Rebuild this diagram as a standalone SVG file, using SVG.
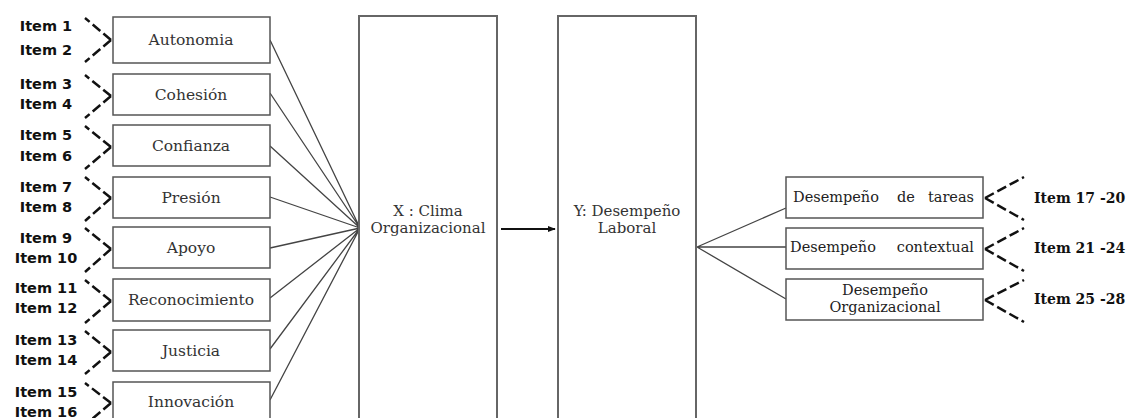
<svg xmlns="http://www.w3.org/2000/svg" width="1133" height="418" viewBox="0 0 1133 418">
<defs>
<style>
.box{fill:#fff;stroke:#555;stroke-width:1.5}
.big{fill:#fff;stroke:#666;stroke-width:2}
.lbl{font-family:"DejaVu Serif",serif;font-size:15.5px;fill:#333;text-anchor:middle}
.cl{font-family:"DejaVu Serif",serif;font-size:15px;fill:#333;text-anchor:middle}
.rl{font-family:"DejaVu Serif",serif;font-size:14.5px;fill:#222}
.item{font-family:"DejaVu Sans",sans-serif;font-weight:bold;font-size:14.5px;fill:#111;text-anchor:middle}
.ritem{font-family:"DejaVu Serif",serif;font-weight:bold;font-size:14px;fill:#111}
.dash{fill:none;stroke:#111;stroke-width:2.5;stroke-dasharray:10 4}
.ln{fill:none;stroke:#444;stroke-width:1.3}
</style>
<marker id="ah" viewBox="0 0 10 10" refX="9" refY="5" markerWidth="8" markerHeight="8" orient="auto" markerUnits="userSpaceOnUse">
<path d="M0,1 L10,5 L0,9 z" fill="#111"/>
</marker>
</defs>
<rect width="1133" height="418" fill="#fff"/>

<g id="connectors">
<path class="ln" d="M270,40 L360,228 M270,93 L360,228 M270,146 L360,228 M270,197 L360,228 M270,248 L360,228 M270,298 L360,228 M270,349 L360,228 M270,400 L360,228"/>
<path class="ln" d="M697,247 L786,208 M697,247 L786,247 M697,247 L786,299"/>
<line x1="501" y1="229" x2="555" y2="229" stroke="#111" stroke-width="2" marker-end="url(#ah)"/>
<path class="dash" d="M111,40 L85,18 M111,40 L85,62"/>
<path class="dash" d="M111,96 L85,75 M111,96 L85,118"/>
<path class="dash" d="M111,147 L85,126 M111,147 L85,169"/>
<path class="dash" d="M111,198 L85,177 M111,198 L85,221"/>
<path class="dash" d="M111,249 L85,228 M111,249 L85,272"/>
<path class="dash" d="M111,301 L85,280 M111,301 L85,323"/>
<path class="dash" d="M111,352 L85,331 M111,352 L85,374"/>
<path class="dash" d="M111,403 L85,383 M111,403 L85,425"/>
<path class="dash" d="M985,198 L1024,177 M985,198 L1024,220"/>
<path class="dash" d="M985,249 L1024,228 M985,249 L1024,271"/>
<path class="dash" d="M985,300 L1024,280 M985,300 L1024,322"/>
</g>

<g id="items-left">
<text class="item" x="46" y="31">Item 1</text>
<text class="item" x="46" y="55">Item 2</text>
<text class="item" x="46" y="89">Item 3</text>
<text class="item" x="46" y="109">Item 4</text>
<text class="item" x="46" y="140">Item 5</text>
<text class="item" x="46" y="161">Item 6</text>
<text class="item" x="46" y="192">Item 7</text>
<text class="item" x="46" y="212">Item 8</text>
<text class="item" x="46" y="243">Item 9</text>
<text class="item" x="46" y="263">Item 10</text>
<text class="item" x="46" y="293">Item 11</text>
<text class="item" x="46" y="313">Item 12</text>
<text class="item" x="46" y="345">Item 13</text>
<text class="item" x="46" y="365">Item 14</text>
<text class="item" x="46" y="397">Item 15</text>
<text class="item" x="46" y="417">Item 16</text>
</g>

<g id="autonomia"><rect class="box" x="113" y="17" width="157" height="46"/><text class="lbl" x="191" y="45">Autonomia</text></g>
<g id="cohesion"><rect class="box" x="113" y="74" width="157" height="41"/><text class="lbl" x="191" y="100">Cohesión</text></g>
<g id="confianza"><rect class="box" x="113" y="125" width="157" height="41"/><text class="lbl" x="191" y="151">Confianza</text></g>
<g id="presion"><rect class="box" x="113" y="177" width="157" height="41"/><text class="lbl" x="191" y="203">Presión</text></g>
<g id="apoyo"><rect class="box" x="113" y="227" width="157" height="41"/><text class="lbl" x="191" y="253">Apoyo</text></g>
<g id="reconocimiento"><rect class="box" x="113" y="279" width="157" height="42"/><text class="lbl" x="191" y="305">Reconocimiento</text></g>
<g id="justicia"><rect class="box" x="113" y="330" width="157" height="41"/><text class="lbl" x="191" y="356">Justicia</text></g>
<g id="innovacion"><rect class="box" x="113" y="382" width="157" height="50"/><text class="lbl" x="191" y="407">Innovación</text></g>

<g id="x-clima"><rect class="big" x="359" y="16" width="138" height="420"/><text class="cl" x="428" y="216">X : Clima</text><text class="cl" x="428" y="233">Organizacional</text></g>
<g id="y-desempeno"><rect class="big" x="558" y="16" width="138" height="420"/><text class="cl" x="627" y="216">Y: Desempeño</text><text class="cl" x="627" y="233">Laboral</text></g>

<g id="tareas"><rect class="box" x="786" y="177" width="197" height="41"/><text class="rl" y="202"><tspan x="793">Desempeño</tspan><tspan x="897">de</tspan><tspan x="974" text-anchor="end">tareas</tspan></text></g>
<g id="contextual"><rect class="box" x="786" y="228" width="197" height="41"/><text class="rl" y="252"><tspan x="790">Desempeño</tspan><tspan x="974" text-anchor="end">contextual</tspan></text></g>
<g id="organizacional"><rect class="box" x="786" y="279" width="197" height="41"/><text class="rl" x="885" y="295" text-anchor="middle">Desempeño</text><text class="rl" x="885" y="312" text-anchor="middle">Organizacional</text></g>

<g id="items-right">
<text class="ritem" x="1034" y="203">Item 17 -20</text>
<text class="ritem" x="1034" y="253">Item 21 -24</text>
<text class="ritem" x="1034" y="304">Item 25 -28</text>
</g>
</svg>
